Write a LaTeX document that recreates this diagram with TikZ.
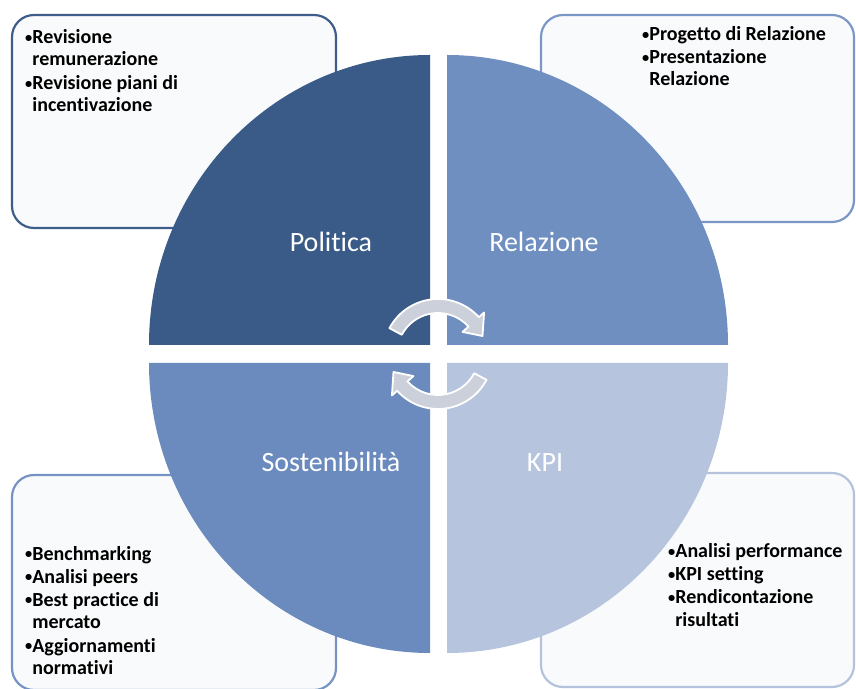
\documentclass[tikz,border=0pt]{standalone}
\usepackage{fontspec}
\usepackage{graphicx}
\setmainfont[Ligatures={NoCommon}]{Carlito}
\newcommand\bul{\raisebox{0.08em}{\scalebox{0.72}{•}}\hspace{0.5pt}}
\definecolor{qTL}{HTML}{3A5B88}
\definecolor{qTR}{HTML}{6F8FC1}
\definecolor{qBL}{HTML}{6B8BBE}
\definecolor{qBR}{HTML}{B7C4DE}
\definecolor{bTL}{HTML}{3E5D8A}
\definecolor{bTR}{HTML}{7A97C5}
\definecolor{bBL}{HTML}{7593C3}
\definecolor{bBR}{HTML}{B5C2DB}
\definecolor{boxfill}{HTML}{F9FAFB}
\definecolor{arrowfill}{HTML}{CBD0DA}
\begin{document}
\begin{tikzpicture}[x=1pt,y=1pt,
  box/.style={rounded corners=22pt, line width=2.2pt, fill=boxfill},
  lbl/.style={text=white, font=\fontsize{28}{32}\selectfont, anchor=base, inner sep=0pt},
  blist/.style={font=\bfseries\fontsize{20}{22}\selectfont, anchor=base west, inner sep=0pt, text=black},
  cyc/.style={fill=arrowfill, draw=white, line width=1.8pt, line join=round}]
\useasboundingbox (0,0) rectangle (856,688);
% boxes
\draw[box, draw=bTL] (12,460) rectangle (336,673);
\draw[box, draw=bTR] (541,466) rectangle (854,673);
\draw[box, draw=bBL] (12,-2) rectangle (336,213);
\draw[box, draw=bBR] (541,1) rectangle (854,215);
% quarters
\fill[qTL] (430,343) -- ++(-281,0) arc[start angle=180, end angle=90, x radius=281pt, y radius=290pt] -- cycle;
\fill[qTR] (447,343) -- ++(0,290) arc[start angle=90, end angle=0, x radius=281pt, y radius=290pt] -- cycle;
\fill[qBL] (430,325) -- ++(-281,0) arc[start angle=180, end angle=270, x radius=281pt, y radius=290pt] -- cycle;
\fill[qBR] (447,325) -- ++(281,0) arc[start angle=0, end angle=-90, x radius=281pt, y radius=290pt] -- cycle;
% labels
\node[lbl] (politica) at (331,436) {Politica};
\node[lbl] (relazione) at (544,436) {Relazione};
\node[lbl] (sost) at (331,216) {Sostenibilità};
\node[lbl] (kpi) at (545,216) {KPI};
% cycle arrows
\begin{scope}[shift={(438,334)}]
\path[cyc] (152:55pt) arc[start angle=152, end angle=42, radius=55pt] -- (42:62pt) -- (22:48pt) -- (42:33pt) -- (42:41pt) arc[start angle=42, end angle=152, radius=41pt] -- cycle;
\path[cyc] (332:55pt) arc[start angle=332, end angle=222, radius=55pt] -- (222:62pt) -- (202:48pt) -- (222:33pt) -- (222:41pt) arc[start angle=222, end angle=332, radius=41pt] -- cycle;
\end{scope}
% bullet texts
\node[blist] (tltext) at (25,644) {\begin{tabular}[t]{@{}l@{}l@{}}\bul&Revisione\\&remunerazione\\[2pt]\bul&Revisione piani di\\&incentivazione\end{tabular}};
\node[blist] (trtext) at (642,647) {\begin{tabular}[t]{@{}l@{}l@{}}\bul&Progetto di Relazione\\[1pt]\bul&Presentazione\\&Relazione\end{tabular}};
\node[blist] (bltext) at (25,128) {\begin{tabular}[t]{@{}l@{}l@{}}\bul&Benchmarking\\[1pt]\bul&Analisi peers\\[1pt]\bul&Best practice di\\&mercato\\[2pt]\bul&Aggiornamenti\\&normativi\end{tabular}};
\node[blist] (brtext) at (668,130) {\begin{tabular}[t]{@{}l@{}l@{}}\bul&Analisi performance\\[1pt]\bul&KPI setting\\[1pt]\bul&Rendicontazione\\&risultati\end{tabular}};
\end{tikzpicture}
\end{document}
